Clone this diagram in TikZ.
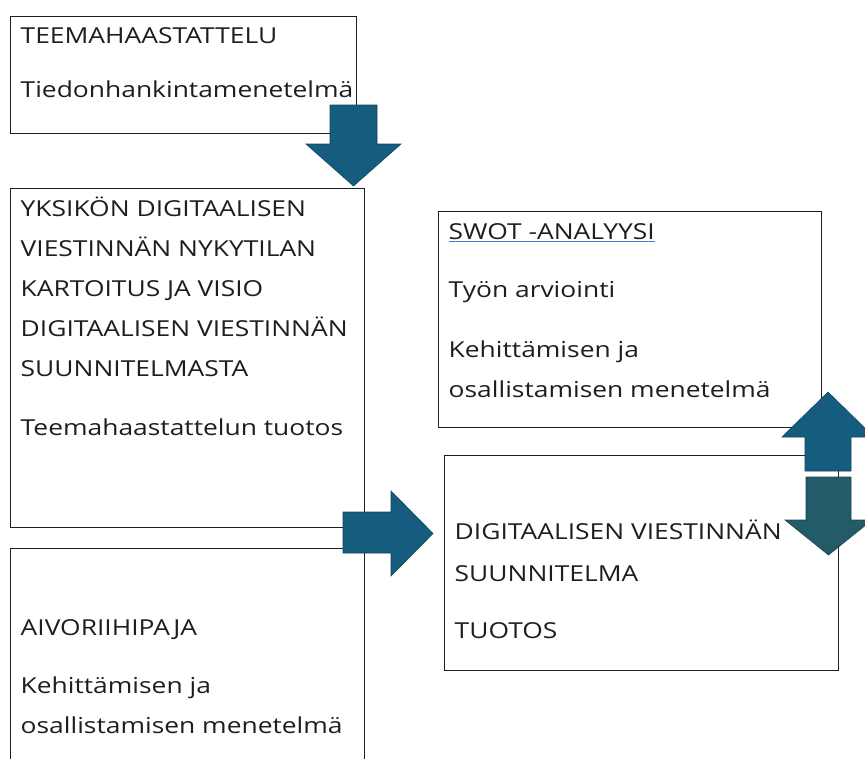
\documentclass[tikz,border=0pt]{standalone}
\usepackage{fontspec}
\setmainfont[FakeStretch=1.2]{Open Sans}
\usetikzlibrary{positioning}
\definecolor{arrowblue}{RGB}{22,92,126}
\definecolor{arrowteal}{RGB}{35,91,104}
\definecolor{linkblue}{RGB}{70,120,210}
\definecolor{inkgray}{RGB}{30,30,30}

\begin{document}
\begin{tikzpicture}[x=1pt, y=-1pt,
   box/.style={draw=inkgray, line width=1pt, rectangle, inner sep=0pt, anchor=north west},
   txt/.style={anchor=base west, inner sep=0pt, align=left, text=inkgray,
               font=\fontsize{22}{40}\selectfont},
   blockarrow/.style={draw=arrowblue!75!black, line width=0.6pt, fill=arrowblue},
   tealarrow/.style={blockarrow, draw=arrowteal!75!black, fill=arrowteal}]

\useasboundingbox (0,0) rectangle (865,758);
\clip (0,0) rectangle (865,758);

\node[box, minimum width=346pt, minimum height=117pt] (teema) at (10,16) {};
\node[box, minimum width=354pt, minimum height=339pt] (yksikko) at (10,188) {};
\node[box, minimum width=354pt, minimum height=260pt] (aivo) at (10,548) {};
\node[box, minimum width=383pt, minimum height=216pt] (swot) at (438,211) {};
\node[box, minimum width=394pt, minimum height=215pt] (suunnitelma) at (444,455) {};

\node[txt] (teemaotsikko) at (20.5,43) {TEEMAHAASTATTELU};
\node[txt] (teemateksti) at (20.5,97) {Tiedonhankintamenetelmä};

\node[txt] (yksikkootsikko) at (20.5,376) {YKSIKÖN DIGITAALISEN\\VIESTINNÄN NYKYTILAN\\KARTOITUS JA VISIO\\DIGITAALISEN VIESTINNÄN\\SUUNNITELMASTA};
\node[txt] (yksikkoteksti) at (20.5,435) {Teemahaastattelun tuotos};

\node[txt] (aivootsikko) at (20.5,635) {AIVORIIHIPAJA};
\node[txt] (aivoteksti) at (20.5,733) {Kehittämisen ja\\osallistamisen menetelmä};

\node[txt] (swototsikko) at (448.5,239) {SWOT -ANALYYSI};
\node[txt] (swotteksti) at (448.5,297) {Työn arviointi};
\node[txt] (swotmenetelma) at (448.5,397) {Kehittämisen ja\\osallistamisen menetelmä};
\draw[draw=linkblue, line width=1.2pt] ([yshift=-2.5pt]swototsikko.base west) -- ([yshift=-2.5pt]swototsikko.base east);

\node[txt] (suunnitelmaotsikko) at (454.5,581) {DIGITAALISEN VIESTINNÄN\\[2pt]SUUNNITELMA};
\node[txt] (suunnitelmateksti) at (454.5,638) {TUOTOS};

\filldraw[blockarrow] (330,105) -- (377,105) -- (377,144) -- (401,144) -- (353.5,186)
   -- (306,144) -- (330,144) -- cycle;
\filldraw[blockarrow] (343,512) -- (391,512) -- (391,491) -- (433,533.5) -- (391,576)
   -- (391,553) -- (343,553) -- cycle;
\filldraw[blockarrow] (805,471) -- (805,437) -- (782,437) -- (828,392) -- (874,437)
   -- (851,437) -- (851,471) -- cycle;
\filldraw[tealarrow] (806,477) -- (851,477) -- (851,520) -- (872,520) -- (828.5,555)
   -- (785,520) -- (806,520) -- cycle;

\end{tikzpicture}
\end{document}
